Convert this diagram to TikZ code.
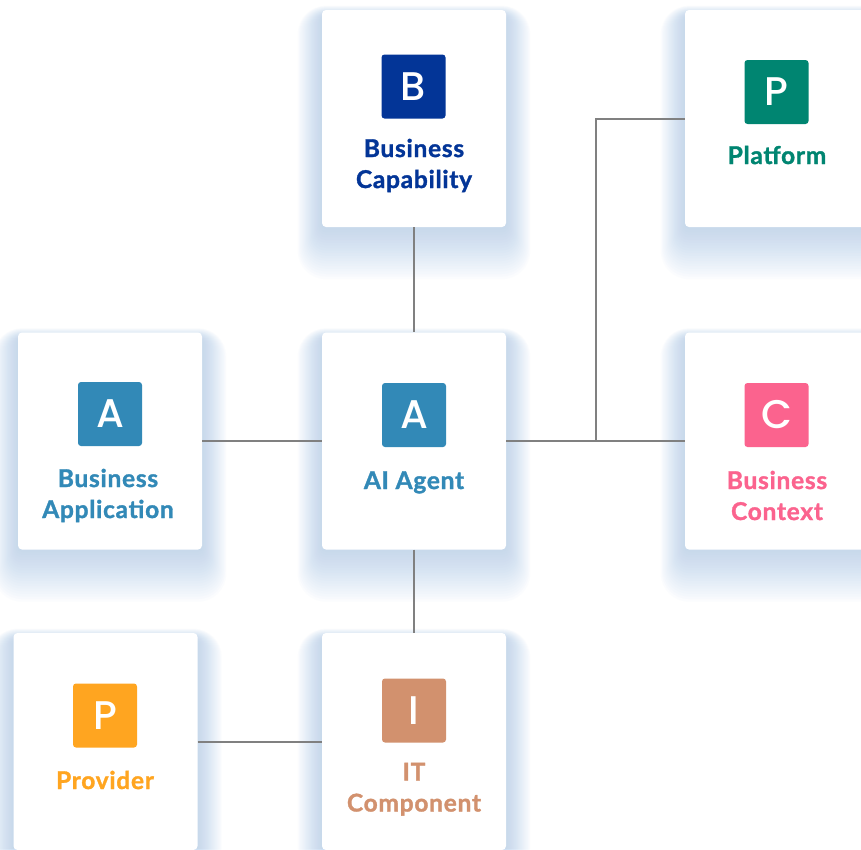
\documentclass[tikz,border=0pt]{standalone}
\usepackage{fontspec}
\usetikzlibrary{calc,backgrounds}

\newfontfamily\lblfont{Lato}[LetterSpace=3, BoldFeatures={FakeBold=1.3}]
\newfontfamily\iconfont{Poppins}[UprightFont=* Medium]

\definecolor{capblue}{RGB}{3,53,151}
\definecolor{appblue}{RGB}{50,137,183}
\definecolor{platteal}{RGB}{0,133,113}
\definecolor{ctxpink}{RGB}{251,99,142}
\definecolor{provorange}{RGB}{255,165,32}
\definecolor{itbrown}{RGB}{210,145,110}
\definecolor{linkgray}{RGB}{128,128,128}
\definecolor{glowblue}{RGB}{161,194,231}

% two centred lines whose baseline is the first line's baseline
\newcommand\twoline[2]{\begin{tabular}[t]{@{}c@{}}#1\\#2\end{tabular}}

\tikzset{
  card/.style={fill=white, rounded corners=4pt, minimum width=184pt,
    minimum height=217pt, inner sep=0pt},
  badge/.style={fill=#1, rounded corners=3pt, minimum size=64pt, inner sep=0pt,
    text=white, font=\iconfont\fontsize{40}{40}\selectfont},
  cardtext/.style={text=#1, font=\lblfont\bfseries\fontsize{24.5}{31}\selectfont,
    anchor=base, inner sep=0pt},
  link/.style={draw=linkgray, line width=2pt},
  glow/.style={fill=glowblue, fill opacity=0.034},
}

\begin{document}
\begin{tikzpicture}[x=1pt, y=-1pt]
\useasboundingbox (0,0) rectangle (861,849);

% cards
\node[card] (bc)  at (414,118.5) {};
\node[card] (pf)  at (777,118.5) {};
\node[card] (ba)  at (110,441)   {};
\node[card] (ai)  at (414,441)   {};
\node[card] (ctx) at (777,441)   {};
\node[card] (pv)  at (105.5,741.5) {};
\node[card] (it)  at (414,741.5) {};

% badges
\node[badge=capblue]    (bcb)  at (413.5,86.5) {B};
\node[badge=platteal]   (pfb)  at (776.5,92)   {P};
\node[badge=appblue]    (bab)  at (110,414)    {A};
\node[badge=appblue]    (aib)  at (414,415)    {A};
\node[badge=ctxpink]    (ctxb) at (776.5,415)  {C};
\node[badge=provorange] (pvb)  at (105,715.5)  {P};
\node[badge=itbrown]    (itb)  at (414,710.5)  {I};

% names
\node[cardtext=capblue]    (bct)  at (414,157)   {\twoline{Business}{Capability}};
\node[cardtext=platteal]   (pft)  at (777,164)   {Platform};
\node[cardtext=appblue]    (bat)  at (108,487)   {\twoline{Business}{Application}};
\node[cardtext=appblue]    (ait)  at (414,489)   {AI Agent};
\node[cardtext=ctxpink]    (ctxt) at (777,489)   {\twoline{Business}{Context}};
\node[cardtext=provorange] (pvt)  at (105,789)   {Provider};
\node[cardtext=itbrown]    (itt)  at (414,780.5) {\twoline{IT}{Component}};

% connectors
\coordinate (hub) at ($(ai.east)!0.5!(ctx.west)$);
\draw[link] (bc.south) -- (ai.north);
\draw[link] (ba.east) -- (ai.west);
\draw[link] (ai.east) -- (ctx.west);
\draw[link] (hub) |- (pf.west);
\draw[link] (ai.south) -- (it.north);
\draw[link] (pv.east) -- (it.west);

% soft blue glow under every card, heavier below
\begin{pgfonlayer}{background}
  \fill[white] (0,0) rectangle (861,849);
  \foreach \n in {bc,pf,ba,ai,ctx,pv,it}{
    \foreach \i in {1,...,20}{
      \fill[glow, rounded corners=4pt+\i*1.2pt]
        ([xshift=-1.2*\i pt, yshift=0.5*\i pt-6pt]\n.north west) rectangle
        ([xshift=1.2*\i pt, yshift=-2.6*\i pt]\n.south east);
    }
  }
\end{pgfonlayer}
\end{tikzpicture}
\end{document}
